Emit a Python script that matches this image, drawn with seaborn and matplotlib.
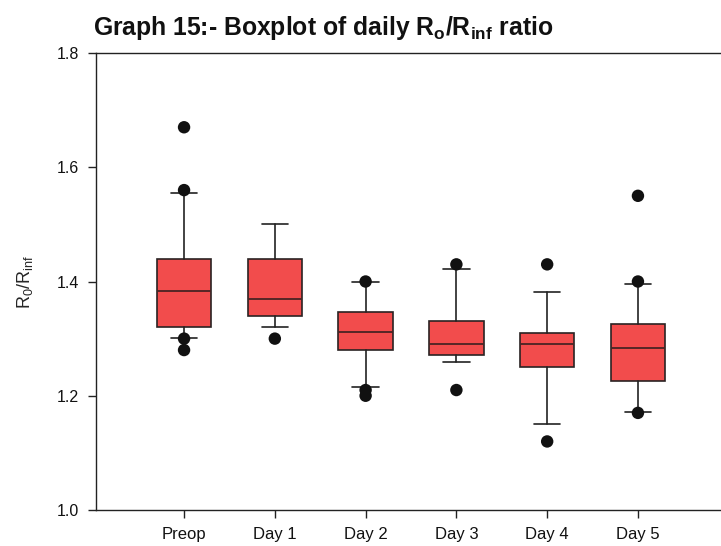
import matplotlib
matplotlib.use("Agg")
import matplotlib.pyplot as plt
import seaborn as sns
import pandas as pd

# Daily Ro/Rinf summaries
days = ["Preop", "Day 1", "Day 2", "Day 3", "Day 4", "Day 5"]
q1 = [1.320, 1.340, 1.280, 1.271, 1.250, 1.226]
median = [1.383, 1.369, 1.311, 1.290, 1.290, 1.284]
q3 = [1.439, 1.440, 1.347, 1.331, 1.310, 1.325]
whisker_low = [1.301, 1.320, 1.215, 1.259, 1.151, 1.171]
whisker_high = [1.555, 1.500, 1.399, 1.422, 1.382, 1.396]
outliers = [
    [1.67, 1.56, 1.30, 1.28],
    [1.30],
    [1.40, 1.21, 1.20],
    [1.43, 1.21],
    [1.43, 1.12],
    [1.55, 1.40, 1.17],
]
y_ticks = [1.0, 1.2, 1.4, 1.6, 1.8]

sns.set_theme(style="ticks")
plt.rcParams["font.family"] = ["Liberation Sans", "DejaVu Sans"]
plt.rcParams["mathtext.default"] = "regular"

fig = plt.figure(figsize=(7.21, 5.46), dpi=100)
ax = fig.add_axes([96 / 721, 36 / 546, 630 / 721, 457 / 546])

stats = []
for i, d in enumerate(days):
    stats.append(dict(label=d, q1=q1[i], med=median[i], q3=q3[i],
                      whislo=whisker_low[i], whishi=whisker_high[i], fliers=[]))

positions = list(range(len(days)))
ax.bxp(stats, positions=positions, widths=0.6, capwidths=0.29,
       showfliers=False, patch_artist=True,
       boxprops=dict(facecolor="#F24C4C", edgecolor="#2a2222", linewidth=1.2),
       medianprops=dict(color="#4a2424", linewidth=1.3),
       whiskerprops=dict(color="#222222", linewidth=1.2),
       capprops=dict(color="#222222", linewidth=1.2))

flier_df = pd.DataFrame(
    [(i, v) for i, vals in enumerate(outliers) for v in vals],
    columns=["pos", "ratio"])
sns.scatterplot(data=flier_df, x="pos", y="ratio", ax=ax, color="#111111",
                s=80, edgecolor="none", zorder=5, legend=False)

ax.set_xlim(-0.97, 5.97)
ax.set_ylim(1.0, 1.8)
ax.set_xticks(positions)
ax.set_xticklabels(days, fontsize=12)
ax.set_yticks(y_ticks)
ax.set_yticklabels([f"{t:.1f}" for t in y_ticks], fontsize=11.5)
ax.set_xlabel("")
ax.set_ylabel(r"R$_0$/R$_{inf}$", fontsize=13, labelpad=16)

for side in ["left", "bottom", "top"]:
    ax.spines[side].set_visible(True)
    ax.spines[side].set_color("#222222")
    ax.spines[side].set_linewidth(1.0)
ax.spines["right"].set_visible(False)
ax.tick_params(axis="both", direction="out", length=6, width=1.0,
               color="#222222", labelcolor="#111111")
ax.tick_params(axis="x", pad=6)
ax.tick_params(axis="y", pad=6)

fig.text(93 / 721, 1 - 28 / 546,
         r"Graph 15:- Boxplot of daily R$_o$/R$_{inf}$ ratio",
         fontsize=17.8, fontweight="bold", ha="left", va="center",
         color="#111111")

fig.savefig("out.png", dpi=100)
